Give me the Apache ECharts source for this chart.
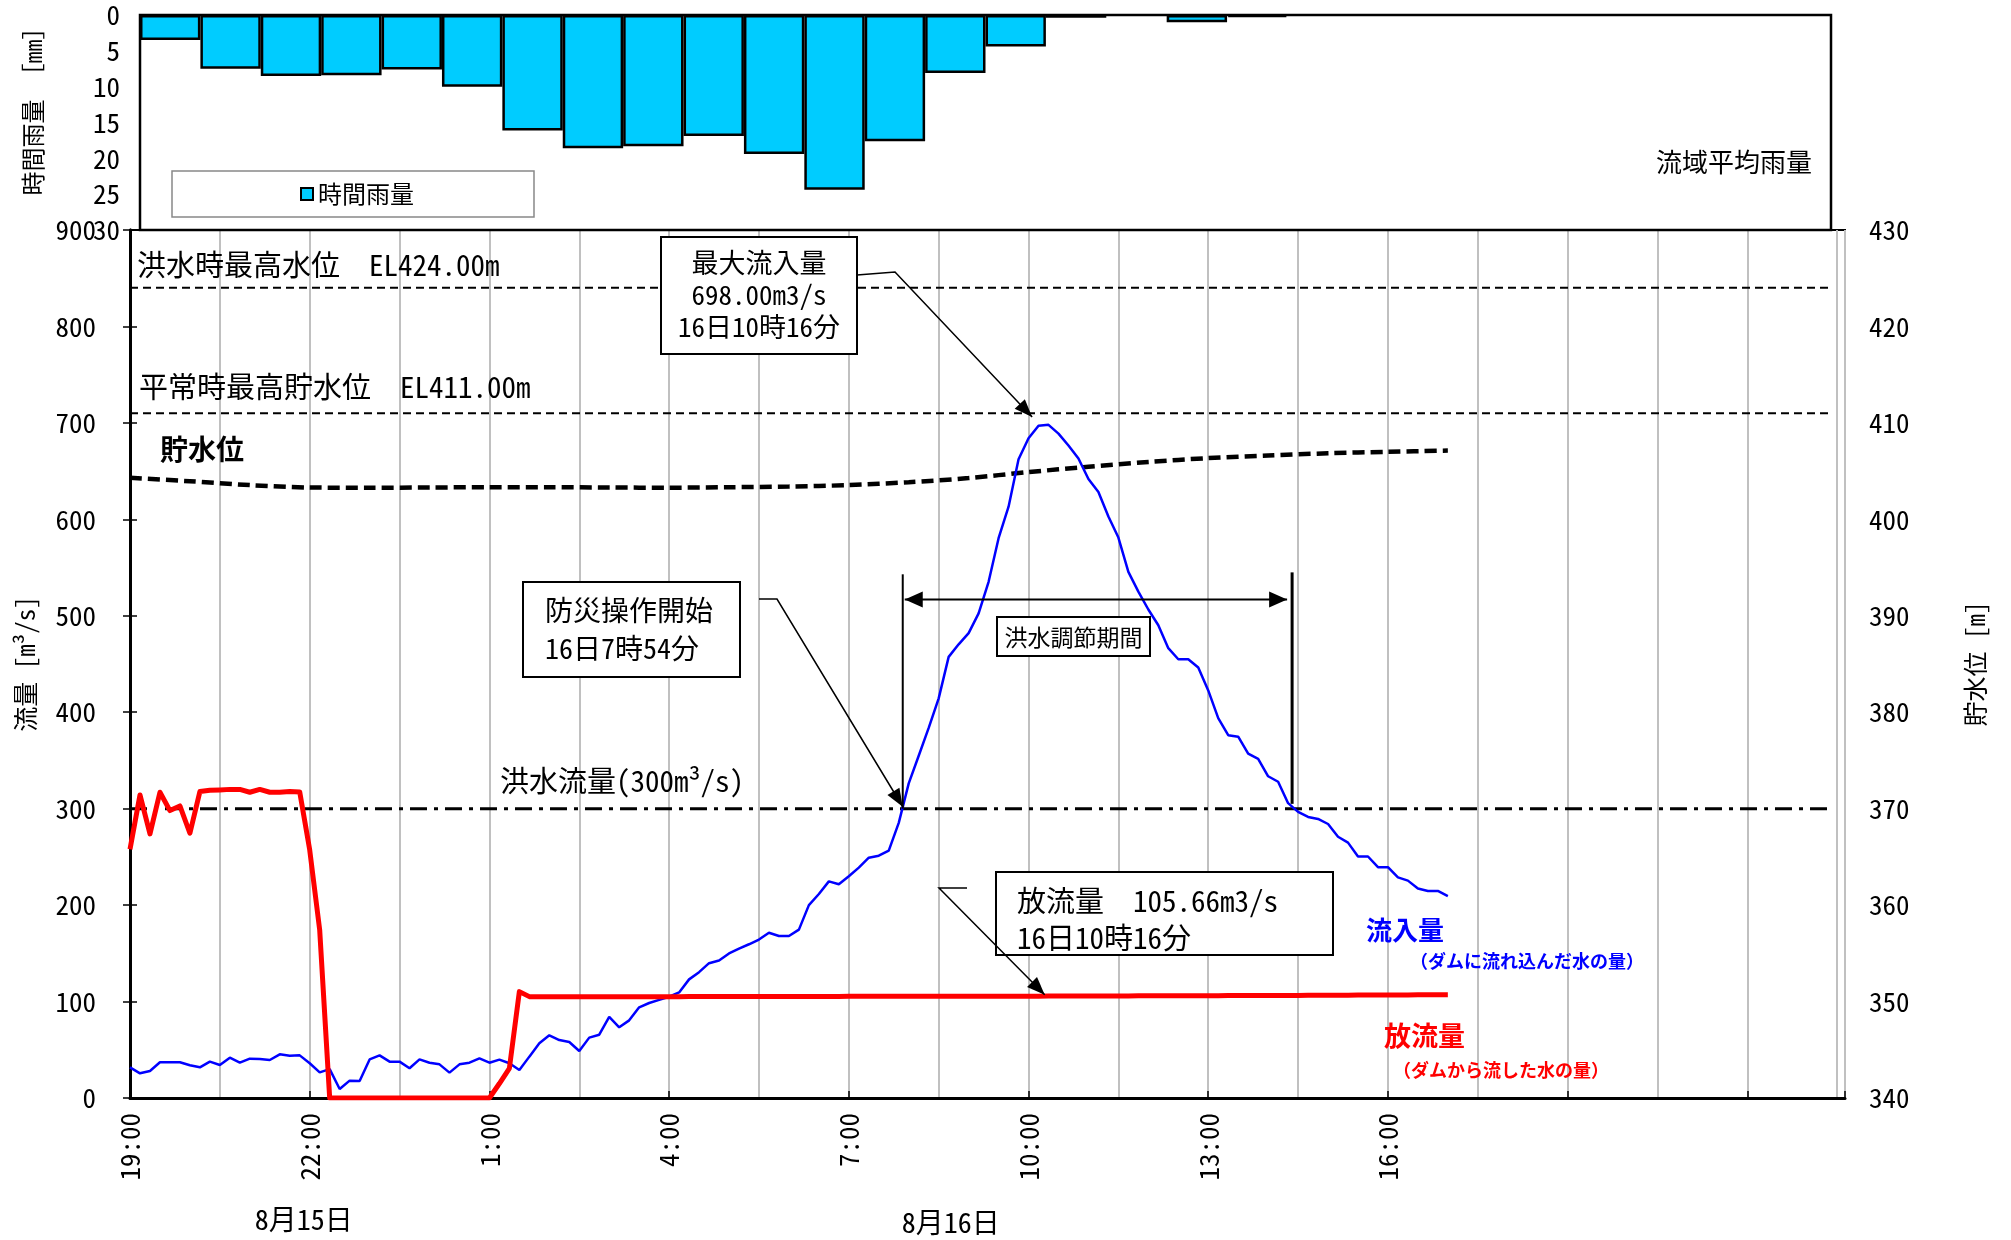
<!DOCTYPE html>
<html><head><meta charset="utf-8">
<script src="https://cdn.jsdelivr.net/npm/echarts@6/dist/echarts.min.js"></script>
<style>html,body{margin:0;padding:0;background:#fff}#c{width:2011px;height:1240px}</style>
</head><body><div id="c"></div>
<script>
const FONT = '"Noto Sans Mono CJK JP","Noto Sans CJK JP",sans-serif';

// ---- data ----
const rainCategories = ['15日19時','20時','21時','22時','23時','16日0時','1時','2時','3時','4時','5時','6時','7時','8時','9時','10時','11時','12時','13時','14時','15時','16時','17時','18時','19時','20時','21時','22時'];
const rainfall = [3.5, 7.5, 8.5, 8.4, 7.6, 10.0, 16.1, 18.6, 18.3, 16.9, 19.4, 24.4, 17.6, 8.1, 4.4, 0.4, 0, 1.0, 0.3, 0, 0, 0, 0, 0, 0, 0, 0, 0];

// 10-minute data from 8/15 19:00 (hour 0) to 8/16 17:00 (hour 22)
const stepHours = 10 / 60;
const inflow = [
 31.8,25.6,28.0,37.0,37.0,37.0,33.9,31.8,37.7,34.2,
 41.8,36.6,40.8,40.4,39.4,45.3,43.9,44.2,36.0,26.6,
 30.0,9.3,18.0,17.6,40.0,44.2,37.7,37.7,30.8,40.0,
 36.6,34.9,26.3,34.9,36.6,41.1,36.6,39.8,36.0,29.0,
 42.9,56.7,65.0,60.1,58.1,48.7,62.6,65.6,84.0,73.3,
 80.5,94.0,98.5,101.8,105.0,109.5,123.0,130.5,139.8,142.6,
 149.9,154.9,159.4,164.3,171.3,168.0,168.0,174.6,200.0,211.5,
 224.6,221.7,229.9,238.9,249.2,251.2,256.5,285.3,326.2,354.9,
 383.7,414.4,457.4,470.4,482.0,502.5,535.2,580.4,613.1,662.3,
 684.0,697.0,698.0,688.9,676.6,663.1,641.8,628.3,603.0,581.1,
 545.5,525.0,506.5,490.2,466.4,454.9,454.9,446.3,422.6,393.8,
 376.2,374.6,357.0,351.6,333.6,327.9,305.7,296.7,291.4,289.3,
 284.1,270.9,264.8,250.4,250.4,239.3,239.3,228.7,225.4,217.2,
 214.7,214.7,209.4
];
const outflow = [
 257.9,314.2,273.8,317.0,298.0,302.8,274.5,317.7,319.0,319.4,
 320.0,320.0,317.0,320.0,317.0,317.0,317.7,317.3,257.2,174.2,
 0,0,0,0,0,0,0,0,0,0,
 0,0,0,0,0,0,0,15.0,30.8,110.3,
 105.1,105.0,105.0,105.0,105.0,105.0,105.0,105.0,105.1,105.1,
 105.1,105.1,105.1,105.1,105.1,105.1,105.2,105.2,105.2,105.2,
 105.2,105.2,105.2,105.2,105.3,105.3,105.3,105.3,105.3,105.3,
 105.3,105.3,105.4,105.4,105.4,105.4,105.4,105.4,105.4,105.4,
 105.5,105.5,105.5,105.5,105.5,105.5,105.5,105.6,105.6,105.6,
 105.6,105.6,105.66,105.7,105.7,105.7,105.7,105.8,105.8,105.8,
 105.8,105.9,105.9,105.9,106.0,106.0,106.0,106.1,106.1,106.1,
 106.2,106.2,106.2,106.3,106.3,106.3,106.4,106.4,106.5,106.5,
 106.5,106.6,106.6,106.7,106.7,106.8,106.8,106.9,106.9,107.0,
 107.0,107.1,107.1
];
// hourly reservoir level (EL m), hour 0..22
const levelHours = [0,1,2,3,4,5,6,7,8,9,10,11,12,13,14,15,16,17,18,19,20,21,22];
const waterLevel = [404.30,403.95,403.55,403.30,403.28,403.30,403.33,403.33,403.30,403.28,403.33,403.40,403.55,403.85,404.28,404.90,405.45,405.95,406.35,406.62,406.85,407.00,407.13];

const floodMaxLevel = 424.00;
const normalMaxLevel = 411.00;
const floodFlowRate = 300;
const timeTickLabels = ['19:00','22:00','1:00','4:00','7:00','10:00','13:00','16:00'];
const dateLabels = ['8月15日', '8月16日'];

// annotation anchors (hours, value)
const opStartHour = 12.9;   // 16日7時54分
const opEndHour = 19.4;
const peakHour = 15.27;     // 16日10時16分
const xMax = 28.63;
const refLineEnd = 28.35;

const chart = echarts.init(document.getElementById('c'), null, {renderer:'canvas', width:2011, height:1240});

const toXY = arr => arr.map((v, i) => [i * stepHours, v]);

const option = {
  animation: false,
  backgroundColor: '#fff',
  textStyle: {fontFamily: FONT, color: '#000'},
  grid: [
    {left: 140, top: 15, width: 1691, height: 215, show: true, borderColor: '#000', borderWidth: 2.5, backgroundColor: '#fff', z: 1},
    {left: 130, top: 230, width: 1715, height: 868, show: true, borderColor: '#000', borderWidth: 2, backgroundColor: 'transparent'}
  ],
  legend: {
    data: ['時間雨量'], left: 172, top: 171, padding: [11, 120, 11, 128],
    borderColor: '#888', borderWidth: 1.5, backgroundColor: '#fff',
    itemWidth: 12, itemHeight: 12, icon: 'rect',
    textStyle: {fontSize: 24, color: '#000', fontFamily: FONT},
    selectedMode: false
  },
  xAxis: [
    {gridIndex: 0, type: 'category', data: rainCategories, boundaryGap: true,
     axisLine: {show: false}, axisTick: {show: false}, axisLabel: {show: false}, splitLine: {show: false}},
    {gridIndex: 1, type: 'value', min: 0, max: xMax, interval: 1.5,
     axisLine: {show: true, lineStyle: {color: '#000', width: 3}},
     axisTick: {show: false},
     splitLine: {show: true, lineStyle: {color: '#c0c0c0', width: 2}},
     axisLabel: {rotate: 90, margin: 15, fontSize: 27, color: '#000', fontFamily: FONT,
       formatter: v => { const k = Math.round(v / 3); return (Math.abs(v - k * 3) < 1e-6 && k < timeTickLabels.length) ? timeTickLabels[k] : ''; }}},
    {gridIndex: 1, type: 'value', min: 0, max: xMax, interval: 3, position: 'bottom',
     axisLine: {show: false}, axisLabel: {show: false}, splitLine: {show: false},
     axisTick: {show: true, inside: true, length: 7, lineStyle: {color: '#000', width: 1.5}}}
  ],
  yAxis: [
    {gridIndex: 0, type: 'value', inverse: true, min: 0, max: 30, interval: 5,
     axisLine: {show: false}, axisTick: {show: false}, splitLine: {show: false},
     axisLabel: {margin: 20, fontSize: 27, color: '#000', fontFamily: FONT},
     name: '時間雨量 ［mm］', nameLocation: 'middle', nameRotate: 90, nameGap: 95,
     nameTextStyle: {fontSize: 24, color: '#000', fontFamily: FONT, padding: [0, 0, 0, 34]}},
    {gridIndex: 1, type: 'value', min: 0, max: 900, interval: 100, position: 'left',
     axisLine: {show: true, lineStyle: {color: '#000', width: 3}},
     axisTick: {show: true, inside: true, length: 7, lineStyle: {color: '#000', width: 1.5}},
     splitLine: {show: false},
     axisLabel: {margin: 34, fontSize: 27, color: '#000', fontFamily: FONT},
     name: '流量 [m³/s]', nameLocation: 'middle', nameRotate: 90, nameGap: 92,
     nameTextStyle: {fontSize: 25, color: '#000', fontFamily: FONT}},
    {gridIndex: 1, type: 'value', min: 340, max: 430, interval: 10, position: 'right',
     axisLine: {show: true, lineStyle: {color: '#000', width: 3}},
     axisTick: {show: true, inside: true, length: 7, lineStyle: {color: '#000', width: 1.5}},
     splitLine: {show: false},
     axisLabel: {margin: 24, fontSize: 27, color: '#000', fontFamily: FONT},
     name: '貯水位 [m]', nameLocation: 'middle', nameRotate: 90, nameGap: 118,
     nameTextStyle: {fontSize: 25, color: '#000', fontFamily: FONT}}
  ],
  series: [
    {name: '時間雨量', type: 'bar', xAxisIndex: 0, yAxisIndex: 0, barCategoryGap: '0%',
     data: rainfall.map(v => v === 0 ? {value: v, itemStyle: {borderWidth: 0}} : v),
     itemStyle: {color: '#00CCFF', borderColor: '#000', borderWidth: 2.5}, z: 3},
    {name: '洪水時最高水位', type: 'line', xAxisIndex: 1, yAxisIndex: 2, symbol: 'none',
     data: [[0, floodMaxLevel], [refLineEnd, floodMaxLevel]],
     lineStyle: {color: '#000', width: 2, type: [8, 5]}, z: 3},
    {name: '平常時最高貯水位', type: 'line', xAxisIndex: 1, yAxisIndex: 2, symbol: 'none',
     data: [[0, normalMaxLevel], [refLineEnd, normalMaxLevel]],
     lineStyle: {color: '#000', width: 2, type: [8, 5]}, z: 3},
    {name: '洪水流量', type: 'line', xAxisIndex: 1, yAxisIndex: 1, symbol: 'none',
     data: [[0, floodFlowRate], [refLineEnd, floodFlowRate]],
     lineStyle: {color: '#000', width: 3, type: [17, 7, 4, 7]}, z: 3},
    {name: '貯水位', type: 'line', xAxisIndex: 1, yAxisIndex: 2, symbol: 'none', smooth: 0.3,
     data: levelHours.map((h, i) => [h, waterLevel[i]]),
     lineStyle: {color: '#000', width: 4.5, type: [12, 6]}, z: 4},
    {name: '流入量', type: 'line', xAxisIndex: 1, yAxisIndex: 1, symbol: 'none',
     data: toXY(inflow), lineStyle: {color: '#0000FF', width: 2.5}, z: 5},
    {name: '放流量', type: 'line', xAxisIndex: 1, yAxisIndex: 1, symbol: 'none',
     data: toXY(outflow), lineStyle: {color: '#FF0000', width: 5, join: 'round'}, z: 6}
  ]
};
chart.setOption(option);

// ---- annotations ----
const P = (h, v) => chart.convertToPixel({xAxisIndex: 1, yAxisIndex: 1}, [h, v]);
const PL = (h, v) => chart.convertToPixel({xAxisIndex: 1, yAxisIndex: 2}, [h, v]);
const Z = 100;
function txt(x, y, text, size, opts = {}) {
  return {type: 'text', x, y, z: Z + 2, style: Object.assign({text, fontSize: size, fontFamily: FONT, fill: '#000', textAlign: 'left', textVerticalAlign: 'middle'}, opts)};
}
function box(x, y, w, h, lw = 2) {
  return {type: 'rect', shape: {x, y, width: w, height: h}, z: Z, style: {fill: '#fff', stroke: '#000', lineWidth: lw}};
}
function line(points, lw = 1.5) {
  return {type: 'polyline', shape: {points}, z: Z + 1, style: {stroke: '#000', lineWidth: lw, fill: null}};
}
function head(tip, from, len = 18, half = 7) {
  const dx = tip[0] - from[0], dy = tip[1] - from[1], d = Math.hypot(dx, dy);
  const ux = dx / d, uy = dy / d, bx = tip[0] - ux * len, by = tip[1] - uy * len;
  return {type: 'polygon', z: Z + 1, shape: {points: [tip, [bx - uy * half, by + ux * half], [bx + uy * half, by - ux * half]]}, style: {fill: '#000'}};
}

const g = [];
// reference level texts
const yFlood = PL(0, floodMaxLevel)[1], yNormal = PL(0, normalMaxLevel)[1];
g.push(txt(137, yFlood - 23, '洪水時最高水位　EL424.00m', 29));
g.push(txt(139, yNormal - 26, '平常時最高貯水位　EL411.00m', 29));
g.push(txt(160, 449, '貯水位', 28, {fontWeight: 'bold'}));
g.push(txt(500, P(0, floodFlowRate)[1] - 28, '洪水流量(300m³/s)', 29));

// max inflow box
const peakTip = P(peakHour - 0.21, 706);
g.push(box(661, 237, 196, 117));
g.push(txt(759, 263, '最大流入量', 27, {textAlign: 'center'}));
g.push(txt(759, 295, '698.00m3/s', 27, {textAlign: 'center'}));
g.push(txt(759, 327, '16日10時16分', 27, {textAlign: 'center'}));
g.push(line([[857, 275], [895, 272], peakTip]));
g.push(head(peakTip, [895, 272]));

// operation start box
const opTip = P(opStartHour, 302);
g.push(box(523, 582, 217, 95));
g.push(txt(545, 610, '防災操作開始', 28));
g.push(txt(545, 648, '16日7時54分', 28));
g.push(line([[759, 599], [777, 599], opTip]));
g.push(head(opTip, [777, 599]));

// flood control period
const xs = P(opStartHour, 0)[0], xe = P(opEndHour, 0)[0];
g.push(line([[xs, P(0, 543)[1]], [xs, P(0, 300)[1]]], 2));
g.push(line([[xe, P(0, 545)[1]], [xe, P(0, 305)[1]]], 3));
const yArr = P(0, 517)[1];
g.push(line([[xs + 2, yArr], [xe - 5, yArr]], 2));
g.push(head([xs + 2, yArr], [xe, yArr], 18, 8));
g.push(head([xe - 5, yArr], [xs, yArr], 18, 8));
g.push(box(997, 617, 153, 39, 2));
g.push(txt(1073.5, 637, '洪水調節期間', 23, {textAlign: 'center'}));

// outflow box
const outTip = P(peakHour, 107);
g.push(box(996, 872, 337, 83));
g.push(txt(1017, 901, '放流量　105.66m3/s', 29));
g.push(txt(1017, 938, '16日10時16分', 29));
g.push(line([[967, 888], [939, 888], outTip]));
g.push(head(outTip, [939, 888]));

// series labels
g.push(txt(1366, 930, '流入量', 26, {fontWeight: 'bold', fill: '#0000FF'}));
g.push(txt(1410, 961, '（ダムに流れ込んだ水の量）', 18, {fontWeight: 'bold', fill: '#0000FF'}));
g.push(txt(1384, 1036, '放流量', 27, {fontWeight: 'bold', fill: '#FF0000'}));
g.push(txt(1393, 1070, '（ダムから流した水の量）', 18, {fontWeight: 'bold', fill: '#FF0000'}));

// rain panel label
g.push(txt(1812, 162, '流域平均雨量', 26, {textAlign: 'right'}));

// date labels
g.push(txt(P(2.9, 0)[0], 1219, dateLabels[0], 28, {textAlign: 'center'}));
g.push(txt(P(13.7, 0)[0], 1222, dateLabels[1], 28, {textAlign: 'center'}));

chart.setOption({graphic: {elements: g}});
</script></body></html>
